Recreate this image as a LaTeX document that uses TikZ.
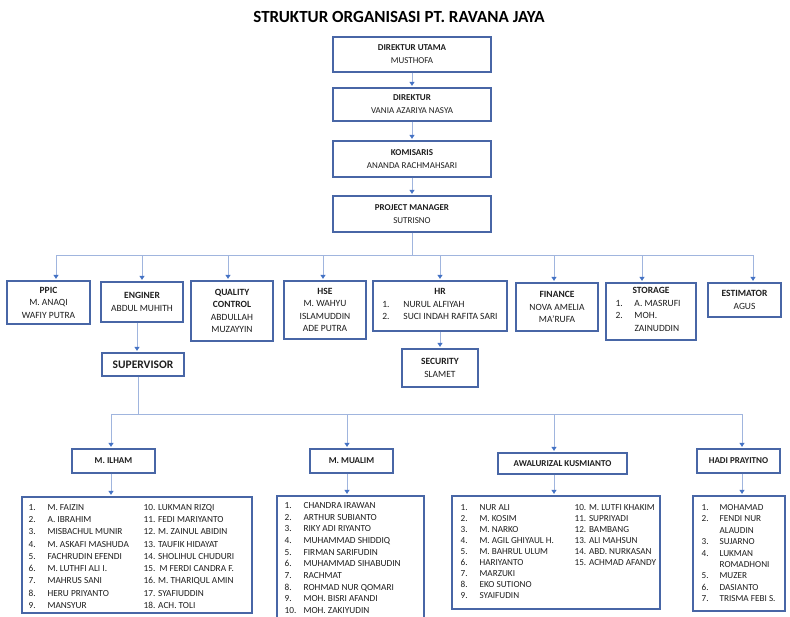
\documentclass[tikz,border=0pt]{standalone}
\usepackage{fontspec}
\setmainfont{Carlito}
\usetikzlibrary{arrows.meta}
\definecolor{boxc}{RGB}{72,102,166}
\definecolor{linec}{RGB}{160,181,222}
\definecolor{tipc}{RGB}{68,114,196}
\definecolor{txtc}{RGB}{30,30,30}
\begin{document}
\begin{tikzpicture}[x=1pt,y=-1pt,
  box/.style={draw=boxc, line width=1.2pt, inner sep=0pt, align=center, text=txtc, font=\fontsize{9}{13}\selectfont},
  midbox/.style={box, font=\fontsize{9.5}{12.5}\selectfont},
  headbox/.style={box, font=\fontsize{9}{11}\selectfont\bfseries},
  conn/.style={draw=linec, line width=0.9pt},
  arr/.style={conn, -{Triangle[width=5pt,length=4pt,color=tipc]}, shorten >=1.5pt},
  listtxt/.style={anchor=base west, inner sep=0pt, text=txtc}
]
\useasboundingbox (0,0) rectangle (790,616);
\clip (0,0) rectangle (790,616);

\node[text=black, font=\fontsize{17}{20}\selectfont\bfseries] (title) at (399,17) {STRUKTUR ORGANISASI PT. RAVANA JAYA};

% top chain
\node[box, minimum width=158, minimum height=35] (du) at (412,54.5) {\textbf{DIREKTUR UTAMA}\\MUSTHOFA};
\node[box, minimum width=158, minimum height=33] (dir) at (412,104.5) {\textbf{DIREKTUR}\\VANIA AZARIYA NASYA};
\node[box, minimum width=158, minimum height=36] (kom) at (412,159) {\textbf{KOMISARIS}\\ANANDA RACHMAHSARI};
\node[box, minimum width=158, minimum height=36] (pm) at (412,214) {\textbf{PROJECT MANAGER}\\SUTRISNO};

\draw[arr] (du.south) -- (dir.north);
\draw[arr] (dir.south) -- (kom.north);
\draw[arr] (kom.south) -- (pm.north);

% second row
\node[midbox, minimum width=83, minimum height=43] (ppic) at (48.5,302.5) {\textbf{PPIC}\\M. ANAQI\\WAFIY PUTRA};
\node[midbox, minimum width=82, minimum height=40] (eng) at (142,302) {\textbf{ENGINER}\\ABDUL MUHITH};
\node[midbox, minimum width=82, minimum height=60] (qc) at (232,311) {\textbf{QUALITY}\\\textbf{CONTROL}\\ABDULLAH\\MUZAYYIN};
\node[midbox, minimum width=82, minimum height=58] (hse) at (325,310) {\textbf{HSE}\\M. WAHYU\\ISLAMUDDIN\\ADE PUTRA};
\node[midbox, minimum width=134, minimum height=50] (hr) at (440,306) {\textbf{HR}\\\begin{tabular}[t]{@{}p{21pt}@{}l@{}}1.&NURUL ALFIYAH\\2.&SUCI INDAH RAFITA SARI\end{tabular}};
\node[midbox, minimum width=82, minimum height=48] (fin) at (557,307) {\textbf{FINANCE}\\NOVA AMELIA\\MA’RUFA};
\node[midbox, minimum width=90, minimum height=57] (sto) at (651,311.5) {\textbf{STORAGE}\\\begin{tabular}[t]{@{}p{19pt}@{}p{52pt}@{}}1.&A. MASRUFI\\2.&MOH.\\&ZAINUDDIN\end{tabular}};
\node[midbox, minimum width=73, minimum height=34] (est) at (744.5,300) {\textbf{ESTIMATOR}\\AGUS};
\node[midbox, minimum width=82, minimum height=23, font=\fontsize{11.5}{13}\selectfont\bfseries] (sup) at (143,364.5) {SUPERVISOR};
\node[midbox, minimum width=76, minimum height=38] (sec) at (440,368) {\textbf{SECURITY}\\SLAMET};

\coordinate (bus1) at (412,255);
\draw[conn] (pm.south) -- (bus1);
\draw[arr] (bus1) -| ([xshift=7.5pt]ppic.north);
\draw[arr] (bus1) -| (eng.north);
\draw[arr] (bus1) -| ([xshift=-4pt]qc.north);
\draw[arr] (bus1) -| ([xshift=-2pt]hse.north);
\draw[arr] (bus1) -| (hr.north);
\draw[arr] (bus1) -| ([xshift=-3pt]fin.north);
\draw[arr] (bus1) -| ([xshift=-9pt]sto.north);
\draw[arr] (bus1) -| ([xshift=8.5pt]est.north);
\draw[arr] ([xshift=-5pt]eng.south) -- ([xshift=-6pt]sup.north);
\draw[arr] (hr.south) -- (sec.north);

% supervisors
\node[headbox, minimum width=83, minimum height=24] (ilh) at (113.5,461) {M. ILHAM};
\node[headbox, minimum width=83, minimum height=24] (mua) at (351.5,461) {M. MUALIM};
\node[headbox, minimum width=129, minimum height=21] (awa) at (562.5,463.5) {AWALURIZAL KUSMIANTO};
\node[headbox, minimum width=83, minimum height=24] (hadi) at (738.5,461) {HADI PRAYITNO};

\coordinate (bus2) at (138,414);
\draw[conn] ([xshift=-5pt]sup.south) -- (bus2);
\draw[arr] (bus2) -| ([xshift=-2.5pt]ilh.north);
\draw[arr] (bus2) -| ([xshift=-4.5pt]mua.north);
\draw[arr] (bus2) -| ([xshift=-8.5pt]awa.north);
\draw[arr] (bus2) -| ([xshift=3.5pt]hadi.north);

% list boxes
\node[box, minimum width=230, minimum height=116] (lil) at (137,555) {};
\node[box, minimum width=147, minimum height=134] (lmu) at (350.5,563) {};
\node[box, minimum width=208, minimum height=113] (law) at (556,552.5) {};
\node[box, minimum width=92, minimum height=115] (lha) at (739,553.5) {};

\coordinate (ilhs) at ([xshift=-2.5pt]ilh.south);
\coordinate (muas) at ([xshift=-4.5pt]mua.south);
\coordinate (awas) at ([xshift=-8.5pt]awa.south);
\coordinate (hadis) at ([xshift=3.5pt]hadi.south);
\draw[arr] (ilhs) -- (ilhs |- lil.north);
\draw[arr] (muas) -- (muas |- lmu.north);
\draw[arr] (awas) -- (awas |- law.north);
\draw[arr] (hadis) -- (hadis |- lha.north);

\node[listtxt, font=\fontsize{9.3}{12.25}\selectfont] (tilh) at ([xshift=7pt,yshift=-14pt]lil.north west) {\begin{tabular}[t]{@{}p{19pt}@{}p{96pt}@{}l@{}}
1.&M. FAIZIN&10. LUKMAN RIZQI\\
2.&A. IBRAHIM&11. FEDI MARIYANTO\\
3.&MISBACHUL MUNIR&12. M. ZAINUL ABIDIN\\
4.&M. ASKAFI MASHUDA&13. TAUFIK HIDAYAT\\
5.&FACHRUDIN EFENDI&14. SHOLIHUL CHUDURI\\
6.&M. LUTHFI ALI I.&15.\ \ M FERDI CANDRA F.\\
7.&MAHRUS SANI&16. M. THARIQUL AMIN\\
8.&HERU PRIYANTO&17. SYAFIUDDIN\\
9.&MANSYUR&18. ACH. TOLI
\end{tabular}};

\node[listtxt, font=\fontsize{9.3}{11.67}\selectfont] (tmua) at ([xshift=8pt,yshift=-13pt]lmu.north west) {\begin{tabular}[t]{@{}p{19pt}@{}l@{}}
1.&CHANDRA IRAWAN\\
2.&ARTHUR SUBIANTO\\
3.&RIKY ADI RIYANTO\\
4.&MUHAMMAD SHIDDIQ\\
5.&FIRMAN SARIFUDIN\\
6.&MUHAMMAD SIHABUDIN\\
7.&RACHMAT\\
8.&ROHMAD NUR QOMARI\\
9.&MOH. BISRI AFANDI\\
10.&MOH. ZAKIYUDIN
\end{tabular}};

\node[listtxt, font=\fontsize{9.2}{11.04}\selectfont] (tawa) at ([xshift=9pt,yshift=-15pt]law.north west) {\begin{tabular}[t]{@{}p{19pt}@{}p{95pt}@{}l@{}}
1.&NUR ALI&10. M. LUTFI KHAKIM\\
2.&M. KOSIM&11. SUPRIYADI\\
3.&M. NARKO&12. BAMBANG\\
4.&M. AGIL GHIYAUL H.&13. ALI MAHSUN\\
5.&M. BAHRUL ULUM&14. ABD. NURKASAN\\
6.&HARIYANTO&15. ACHMAD AFANDY\\
7.&MARZUKI&\\
8.&EKO SUTIONO&\\
9.&SYAIFUDIN&
\end{tabular}};

\node[listtxt, font=\fontsize{9.2}{11.4}\selectfont] (thadi) at ([xshift=9pt,yshift=-15pt]lha.north west) {\begin{tabular}[t]{@{}p{18pt}@{}l@{}}
1.&MOHAMAD\\
2.&FENDI NUR\\
&ALAUDIN\\
3.&SUJARNO\\
4.&LUKMAN\\
&ROMADHONI\\
5.&MUZER\\
6.&DASIANTO\\
7.&TRISMA FEBI S.
\end{tabular}};
\end{tikzpicture}
\end{document}
